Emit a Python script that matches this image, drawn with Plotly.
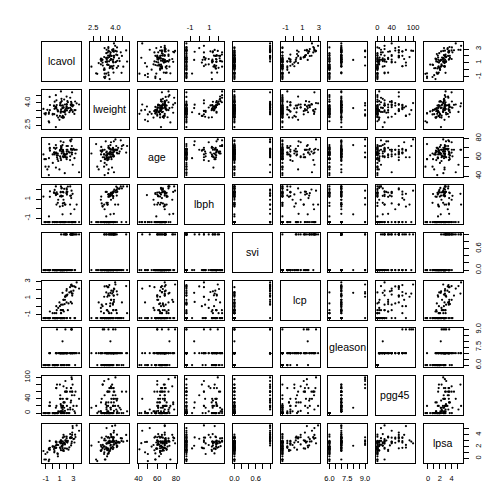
import plotly.graph_objects as go

names = ["lcavol", "lweight", "age", "lbph", "svi", "lcp", "gleason", "pgg45", "lpsa"]

lcavol = [-0.5798185, -0.9942523, -0.5108256, -1.2039728, 0.7514161, -1.0498221, 0.7371641, 0.6931472,
          -0.7765288, 0.2231436, 0.2546422, -1.3470736, 1.6134299, 1.4770487, 1.2059708, 1.5411591,
          -0.4155154, 2.2882456, -0.5621189, 0.1823216, 1.1474025, 2.0592388, -0.5447272, 1.7817091,
          0.3852624, 1.4469190, 0.5128236, -0.4004776, 1.0402767, 2.4096442, 0.2851789, 0.1823216,
          1.2753628, 0.0099503, -0.0100503, 1.3083328, 1.4231083, 0.4574248, 2.6609586, 0.7975072,
          0.6205765, 1.4422019, 0.5822156, 1.7714620, 1.4861397, 1.6639261, 2.7278528, 1.1631508,
          1.7457155, 1.2208299, 1.0919233, 1.6601310, 0.5128236, 2.1270405, 3.1535904, 1.2669476,
          0.9745596, 0.4637340, 0.5423243, 1.0612565, 0.4574248, 1.9974177, 2.7757912, 2.0347056,
          2.0731719, 1.4586150, 2.0228712, 2.1983351, -0.4462871, 1.1939225, 1.8640801, 1.1600209,
          1.2149127, 1.8389611, 2.9992262, 3.1411305, 2.0108950, 2.5376572, 2.6483002, 2.7794402,
          1.4678743, 2.5136561, 2.6130067, 2.6775910, 1.5623463, 3.3028493, 2.0241931, 1.7316555,
          2.8075938, 1.5623463, 3.2464910, 2.5329028, 2.8302678, 3.8210036, 2.9074474, 2.8825636,
          3.4719665]
lweight = [2.769459, 3.319626, 2.691243, 3.282789, 3.432373, 3.228826, 3.473518, 3.539509,
           3.539509, 3.244544, 3.604138, 3.598681, 3.022861, 2.998229, 3.442019, 3.061052,
           3.516013, 3.649359, 3.267666, 3.825375, 3.419365, 3.501043, 3.375880, 3.451574,
           3.667400, 3.124565, 3.719651, 3.865979, 3.128951, 3.375880, 4.090169, 3.804438,
           3.037354, 3.267666, 3.216874, 4.119850, 3.657131, 2.374906, 4.085136, 3.013081,
           3.141995, 3.682610, 3.865979, 3.896909, 3.409496, 3.392829, 3.995445, 4.035125,
           3.498022, 3.568123, 3.993603, 4.234831, 3.633631, 4.121473, 3.516013, 4.280132,
           2.865054, 3.764682, 4.178226, 3.851211, 4.524502, 3.719651, 3.524889, 3.917011,
           3.623007, 3.836221, 3.878466, 4.050915, 4.408547, 4.780383, 3.593194, 3.341093,
           3.825375, 3.236716, 3.849083, 3.263849, 4.433789, 4.354784, 3.582129, 3.823192,
           3.070376, 3.473518, 3.888754, 3.838376, 3.709907, 3.518980, 3.731699, 3.369018,
           4.718052, 3.695110, 4.101817, 3.677566, 3.876396, 3.896909, 3.396185, 3.773910,
           3.974998]
age = [50, 58, 74, 58, 62, 50, 64, 58, 47, 63, 65, 63, 63, 67, 57, 66, 70, 66, 41, 70,
       59, 60, 59, 63, 69, 68, 65, 67, 67, 65, 65, 65, 71, 54, 63, 64, 73, 64, 68, 56,
       60, 68, 62, 61, 66, 61, 79, 68, 43, 70, 68, 64, 64, 68, 59, 66, 47, 49, 70, 61,
       73, 63, 72, 66, 64, 61, 68, 72, 69, 72, 60, 77, 69, 60, 69, 68, 72, 78, 69, 63,
       66, 57, 77, 65, 60, 64, 58, 62, 65, 76, 68, 61, 68, 44, 52, 68, 68]
lbph = [-1.386294, -1.386294, -1.386294, -1.386294, -1.386294, -1.386294, 0.6151856, 1.5368672,
        -1.386294, -1.386294, -1.386294, 1.2669476, -1.386294, -1.386294, -1.386294, -1.386294,
        1.2441546, -1.386294, -1.386294, 1.6582281, -1.386294, 1.4747630, -0.7985077, 0.4382549,
        1.5993876, 0.3001046, -1.386294, 1.8164521, 0.2231436, -1.386294, 1.9629077, 1.7047481,
        1.2669476, -1.386294, -1.386294, 2.1713368, -0.5798185, -1.386294, 1.3730491, 0.9360934,
        -1.386294, -1.386294, 1.7137979, -1.386294, 1.7491998, 0.6151856, 1.8794650, 1.7137979,
        -1.386294, 1.3737156, -1.386294, 2.0731719, 1.4929041, 1.7664417, -1.386294, 2.1222615,
        -1.386294, 1.4231083, 0.4382549, 1.2947272, 2.3263016, 1.6193882, -1.386294, 2.0082140,
        -1.386294, 1.3217558, 1.7833912, 2.3075726, -1.386294, 2.3263016, -1.386294, 1.7491998,
        -1.386294, 0.4382549, -1.386294, -0.0512933, 2.1222615, 2.3263016, -1.386294, -1.386294,
        0.5596158, 0.4382549, -0.5276327, 1.1151416, 1.6956156, -1.386294, 1.6389967, -1.386294,
        -1.386294, 0.9360934, -1.386294, 1.3480731, -1.386294, -1.386294, -1.386294, 1.5581446,
        0.4382549]
svi = [0, 0, 0, 0, 0, 0, 0, 0, 0, 0, 0, 0, 0, 0, 0, 0, 0, 0, 0, 0,
       0, 0, 0, 0, 0, 0, 0, 0, 0, 0, 0, 0, 0, 0, 0, 0, 0, 0, 1, 0,
       0, 0, 0, 0, 0, 0, 1, 0, 0, 0, 0, 0, 0, 0, 0, 0, 0, 0, 0, 0,
       0, 1, 0, 1, 0, 0, 0, 0, 0, 0, 1, 0, 1, 1, 1, 1, 0, 0, 1, 0,
       0, 0, 1, 0, 0, 1, 0, 1, 1, 1, 0, 1, 1, 1, 1, 1, 1]
lcp = [-1.386294, -1.386294, -1.386294, -1.386294, -1.386294, -1.386294, -1.386294, -1.386294,
       -1.386294, -1.386294, -1.386294, -1.386294, -0.597837, -1.386294, -0.430783, -1.386294,
       -0.597837, 0.3715636, -1.386294, -1.386294, -1.386294, 1.3480731, -1.386294, 1.1786550,
       -1.386294, -1.386294, -0.798508, -1.386294, 0.0487902, 1.6956156, -0.798508, -1.386294,
       -1.386294, -1.386294, -0.798508, -1.386294, 1.6582281, -1.386294, 1.8325815, -0.162519,
       -1.386294, -1.386294, -0.430783, 0.8109302, -0.430783, -1.386294, 2.6567569, -0.430783,
       -1.386294, -0.798508, -1.386294, -1.386294, 0.0487902, 1.4469190, -1.386294, -1.386294,
       0.5007753, -1.386294, -1.386294, -1.386294, -1.386294, 1.9095425, 1.5581446, 2.1102132,
       -1.386294, -0.430783, 1.3217558, -0.430783, -1.386294, -0.798508, 1.3217558, -1.386294,
       0.2231436, 1.1786550, 1.9095425, 2.4203681, 0.5007753, -1.386294, 2.5839976, 0.3715636,
       0.2231436, 2.3272777, 0.5596158, 1.7491998, 0.8109302, 2.3272777, -1.386294, 0.3001046,
       2.4634045, 0.8109302, -1.386294, -1.386294, 1.3217558, 2.1690537, 2.4634045, 1.5581446,
       2.9041651]
gleason = [6, 6, 7, 6, 6, 6, 6, 6, 6, 6, 6, 6, 7, 7, 7, 6, 7, 6, 6, 6,
           6, 7, 6, 7, 6, 6, 7, 7, 7, 6, 6, 6, 6, 6, 6, 7, 8, 7, 7, 7,
           9, 7, 6, 7, 7, 7, 9, 7, 6, 6, 7, 6, 7, 7, 7, 7, 7, 6, 7, 7,
           6, 7, 9, 7, 6, 7, 7, 7, 6, 7, 7, 7, 7, 9, 7, 7, 7, 7, 7, 7,
           7, 7, 7, 9, 7, 7, 6, 7, 7, 7, 6, 7, 7, 7, 7, 7, 7]
pgg45 = [0, 0, 20, 0, 0, 0, 0, 0, 0, 0, 0, 0, 30, 5, 5, 0, 30, 0, 0, 0,
         0, 20, 0, 60, 0, 0, 70, 20, 80, 0, 0, 0, 0, 0, 0, 5, 15, 15, 35, 5,
         80, 10, 0, 6, 20, 15, 100, 40, 0, 0, 50, 0, 70, 40, 5, 15, 4, 0, 20, 40,
         0, 40, 95, 60, 0, 20, 70, 10, 0, 5, 60, 25, 20, 90, 20, 50, 60, 10, 70, 50,
         40, 60, 30, 70, 30, 60, 0, 30, 60, 75, 0, 15, 60, 40, 10, 80, 20]
lpsa = [-0.4307829, -0.1625189, -0.1625189, -0.1625189, 0.3715636, 0.7654678, 0.7654678, 0.8544153,
        1.0473190, 1.0473190, 1.2669476, 1.2669476, 1.2669476, 1.3480731, 1.3987169, 1.4469190,
        1.4701758, 1.4929041, 1.5581446, 1.5993876, 1.6389967, 1.6582281, 1.6956156, 1.7137979,
        1.7316555, 1.7664417, 1.8000583, 1.8164521, 1.8484548, 1.8946169, 1.9242487, 2.0082140,
        2.0082140, 2.0215476, 2.0477671, 2.0856721, 2.1575593, 2.1916535, 2.2137539, 2.2772673,
        2.2975726, 2.3075726, 2.3272777, 2.3749058, 2.5217206, 2.5533438, 2.5687881, 2.5687881,
        2.5915164, 2.5915164, 2.6567569, 2.6775910, 2.6844403, 2.6912431, 2.7047113, 2.7180005,
        2.7880929, 2.7942279, 2.8063861, 2.8124102, 2.8419982, 2.8535925, 2.8535925, 2.8820035,
        2.8820035, 2.8875901, 2.9204698, 2.9626924, 2.9626924, 2.9729753, 3.0130809, 3.0373539,
        3.0563569, 3.0750055, 3.2752562, 3.3375474, 3.3928291, 3.4355988, 3.4578927, 3.5130369,
        3.5160131, 3.5307626, 3.5652984, 3.5709402, 3.5876769, 3.6309855, 3.6800909, 3.7123518,
        3.9843437, 3.9936030, 4.0298060, 4.1295508, 4.3851468, 4.6844434, 5.1431245, 5.4775090,
        5.5829322]

tick_vals = [
    [-1, 0, 1, 2, 3],
    [2.5, 3.0, 3.5, 4.0, 4.5],
    [40, 50, 60, 70, 80],
    [-1, 0, 1, 2],
    [0.0, 0.2, 0.4, 0.6, 0.8, 1.0],
    [-1, 0, 1, 2, 3],
    [6.0, 6.5, 7.0, 7.5, 8.0, 8.5, 9.0],
    [0, 20, 40, 60, 80, 100],
    [0, 1, 2, 3, 4, 5],
]
tick_text = [
    ["-1", "", "1", "", "3"],
    ["2.5", "", "", "4.0", ""],
    ["40", "", "60", "", "80"],
    ["-1", "", "1", ""],
    ["0.0", "", "", "0.6", "", ""],
    ["-1", "", "1", "", "3"],
    ["6.0", "", "", "7.5", "", "", "9.0"],
    ["0", "", "40", "", "", "100"],
    ["0", "", "2", "", "4", ""],
]

cols = [lcavol, lweight, age, lbph, svi, lcp, gleason, pgg45, lpsa]
N = len(names)
W = 504.0
L0 = 42.3
P = 47.65
S = 38.5
FONT = "Liberation Sans, Arial, Helvetica, sans-serif"


def ext(v):
    lo, hi = min(v), max(v)
    d = hi - lo
    return [lo - 0.04 * d, hi + 0.04 * d]


fig = go.Figure()
layout = dict(
    width=504, height=504,
    margin=dict(l=0, r=0, t=0, b=0),
    paper_bgcolor="white", plot_bgcolor="white",
    showlegend=False,
    font=dict(family=FONT, size=7.5, color="black"),
    annotations=[],
)

for i in range(N):
    for j in range(N):
        n = i * N + j + 1
        xk = "xaxis" if n == 1 else f"xaxis{n}"
        yk = "yaxis" if n == 1 else f"yaxis{n}"
        xr = "x" if n == 1 else f"x{n}"
        yr = "y" if n == 1 else f"y{n}"
        left = round(L0 + j * P)
        top = round(L0 + i * P)
        xd = [left / W, (left + S) / W]
        yd = [1 - (top + S) / W, 1 - top / W]
        base = dict(showline=True, mirror=True, linecolor="black", linewidth=1,
                    showgrid=False, zeroline=False, automargin=False, fixedrange=True,
                    ticks="", showticklabels=False)
        xa = dict(base, domain=xd, anchor=yr, range=ext(cols[j]))
        ya = dict(base, domain=yd, anchor=xr, range=ext(cols[i]))
        tick_common = dict(ticks="outside", ticklen=5, tickwidth=1, tickcolor="black",
                           showticklabels=True, ticklabelstandoff=3,
                           tickfont=dict(family=FONT, size=7.5, color="black"))
        if i == 0 and j % 2 == 1:
            xa.update(tick_common, side="top", tickmode="array",
                      tickvals=tick_vals[j], ticktext=tick_text[j], tickangle=0)
        if i == N - 1 and j % 2 == 0:
            xa.update(tick_common, side="bottom", tickmode="array",
                      tickvals=tick_vals[j], ticktext=tick_text[j], tickangle=0)
        if j == 0 and i % 2 == 1:
            ya.update(tick_common, side="left", tickmode="array",
                      tickvals=tick_vals[i], ticktext=tick_text[i], tickangle=-90)
        if j == N - 1 and i % 2 == 0:
            ya.update(tick_common, side="right", tickmode="array",
                      tickvals=tick_vals[i], ticktext=tick_text[i], tickangle=-90)
        layout[xk] = xa
        layout[yk] = ya
        if i == j:
            fig.add_trace(go.Scatter(x=[None], y=[None], mode="markers",
                                     xaxis=xr, yaxis=yr, hoverinfo="skip"))
            cx = round(left + S / 2)
            cy = round(top + S / 2)
            layout["annotations"].append(dict(
                x=cx / W, y=1 - cy / W, xref="paper", yref="paper",
                text=names[i], showarrow=False, xanchor="center", yanchor="middle",
                font=dict(family=FONT, size=10.6, color="#000000")))
        else:
            fig.add_trace(go.Scatter(x=cols[j], y=cols[i], mode="markers",
                                     marker=dict(size=2.2, color="black"),
                                     xaxis=xr, yaxis=yr, hoverinfo="skip",
                                     cliponaxis=False))

fig.update_layout(**layout)
fig.write_html("out.html", config=dict(displayModeBar=False))
